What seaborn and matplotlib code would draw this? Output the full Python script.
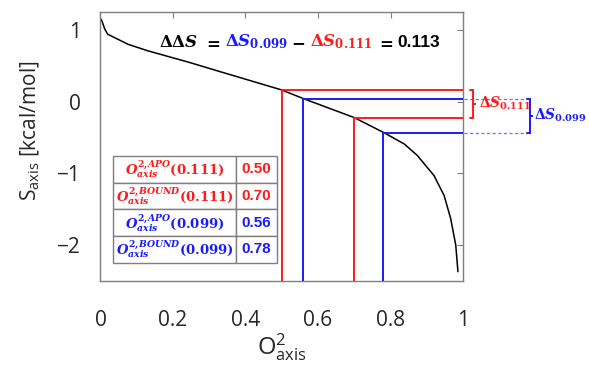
import numpy as np
import pandas as pd
import matplotlib
matplotlib.use("Agg")
import matplotlib.pyplot as plt
import seaborn as sns
from matplotlib.offsetbox import TextArea, HPacker, AnchoredOffsetbox

# ---- data ----
o2_axis = [0.0, 0.004, 0.012, 0.02, 0.076, 0.13, 0.246, 0.329, 0.5, 0.56,
           0.7, 0.783, 0.838, 0.874, 0.92, 0.948, 0.966, 0.98, 0.986]
s_axis = [1.16, 1.125, 1.01, 0.94, 0.80, 0.71, 0.546, 0.42, 0.163, 0.042,
          -0.222, -0.435, -0.59, -0.75, -1.03, -1.31, -1.63, -2.0, -2.37]

o2_red = [0.50, 0.70]      # O2 APO / BOUND (0.111)
s_red = [0.163, -0.222]
o2_blue = [0.56, 0.78]     # O2 APO / BOUND (0.099)
s_blue = [0.042, -0.435]

table_labels = [r"$O^{2{,}APO}_{axis}$(0.111)", r"$O^{2{,}BOUND}_{axis}$(0.111)",
                r"$O^{2{,}APO}_{axis}$(0.099)", r"$O^{2{,}BOUND}_{axis}$(0.099)"]
table_values = ["0.50", "0.70", "0.56", "0.78"]
ddS_value = "0.113"

xticks = [0, 0.2, 0.4, 0.6, 0.8, 1]
xticklabels = ["0", "0.2", "0.4", "0.6", "0.8", "1"]
yticks = [-2, -1, 0, 1]

RED = "#ff1a1a"
BLUE = "#1a1aff"
GRAY = "#7f7f7f"

sns.set_theme(style="white")
plt.rcParams["font.family"] = ["Open Sans", "DejaVu Sans"]
plt.rcParams["mathtext.fontset"] = "custom"
plt.rcParams["mathtext.rm"] = "DejaVu Serif:bold"
plt.rcParams["mathtext.it"] = "DejaVu Serif:italic:bold"
plt.rcParams["mathtext.bf"] = "DejaVu Serif:bold"
plt.rcParams["mathtext.sf"] = "Open Sans"
plt.rcParams["axes.unicode_minus"] = True

fig = plt.figure(figsize=(5.89, 3.66), dpi=100)
ax = fig.add_axes([0.1706, 0.2322, 0.6155, 0.735])

df = pd.DataFrame({"o2": o2_axis, "s": s_axis})
sns.lineplot(data=df, x="o2", y="s", color="black", lw=1.1, ax=ax, sort=False)

ymin, ymax = -2.5, 1.25
for xs, ss, col in [(o2_red, s_red, RED), (o2_blue, s_blue, BLUE)]:
    for xv, sv in zip(xs, ss):
        ax.plot([xv, xv], [ymin, sv], color=col, lw=1.4, zorder=3)
        ax.plot([xv, 1.0], [sv, sv], color=col, lw=1.4, zorder=3)

# dashed extension lines for blue
for sv in s_blue:
    ax.plot([1.003, 1.177], [sv, sv], color="#6f6fff", lw=0.9, ls=(0, (2.5, 2)),
            clip_on=False)

# brackets
def bracket(x0, x1, tip, top, bot, col):
    mid = (top + bot) / 2
    ax.plot([x0, x1, x1, tip, x1, x1, x0], [top, top, mid, mid, mid, bot, bot],
            color=col, lw=1.4, clip_on=False, solid_joinstyle="miter")

bracket(1.018, 1.028, 1.036, s_red[0], s_red[1], RED)
bracket(1.177, 1.185, 1.192, s_blue[0], s_blue[1], BLUE)
ax.text(1.045, (s_red[0] + s_red[1]) / 2, r"$\Delta S_{0.111}$", color=RED,
        fontsize=10, va="center", ha="left", clip_on=False)
ax.text(1.197, (s_blue[0] + s_blue[1]) / 2, r"$\Delta S_{0.099}$", color=BLUE,
        fontsize=10, va="center", ha="left", clip_on=False)

# top equation
fs = 12
parts = [(r"$\Delta\Delta S$", "black"), (r"$=$", "black"),
         (r"$\Delta S_{0.099}$", BLUE),
         (r"$-$", "black"), (r"$\Delta S_{0.111}$", RED),
         (r"$=$", "black")]
areas = [TextArea(t, textprops=dict(color=c, fontsize=fs)) for t, c in parts]
areas.append(TextArea(ddS_value, textprops=dict(color="black", fontsize=fs + 0.5,
                                                 family="Liberation Sans",
                                                 weight="bold")))
box = HPacker(children=areas, align="baseline", pad=0, sep=3)
anch = AnchoredOffsetbox(loc="center", child=box, frameon=False,
                         bbox_to_anchor=(0.55, 0.888), bbox_transform=ax.transAxes,
                         pad=0, borderpad=0)
ax.add_artist(anch)

# table
cell_text = [[l, v] for l, v in zip(table_labels, table_values)]
tab = ax.table(cellText=cell_text, colWidths=[0.749, 0.251],
               bbox=[0.0353, 0.068, 0.4508, 0.3967], cellLoc="center")
tab.auto_set_font_size(False)
row_cols = [RED, RED, BLUE, BLUE]
for (r, c), cell in tab.get_celld().items():
    cell.set_edgecolor(GRAY)
    cell.set_linewidth(1.0)
    cell.set_facecolor("white")
    t = cell.get_text()
    t.set_color(row_cols[r])
    if c == 0:
        t.set_fontsize(9.5)
        t.set_family("DejaVu Serif")
        t.set_weight("bold")
    else:
        t.set_fontsize(11)
        t.set_family("Liberation Sans")
        t.set_weight("bold")

ax.set_xlim(0, 1)
ax.set_ylim(ymin, ymax)
ax.set_xticks(xticks)
ax.set_xticklabels(xticklabels)
ax.set_yticks(yticks)
ax.tick_params(direction="in", top=True, right=True, length=4, width=0.8,
               color=GRAY, labelsize=15, pad=14)
ax.tick_params(axis="x", pad=21)
for sp in ax.spines.values():
    sp.set_color(GRAY)
    sp.set_linewidth(1.0)
ax.set_xlabel(r"$\mathsf{O}^{\mathsf{2}}_{\mathsf{axis}}$", fontsize=17, labelpad=0)
ax.set_ylabel(r"$\mathsf{S}_{\mathsf{axis}}$ [kcal/mol]", fontsize=15)
ax.yaxis.set_label_coords(-0.165, 0.56)

fig.savefig("out.png", dpi=100)
